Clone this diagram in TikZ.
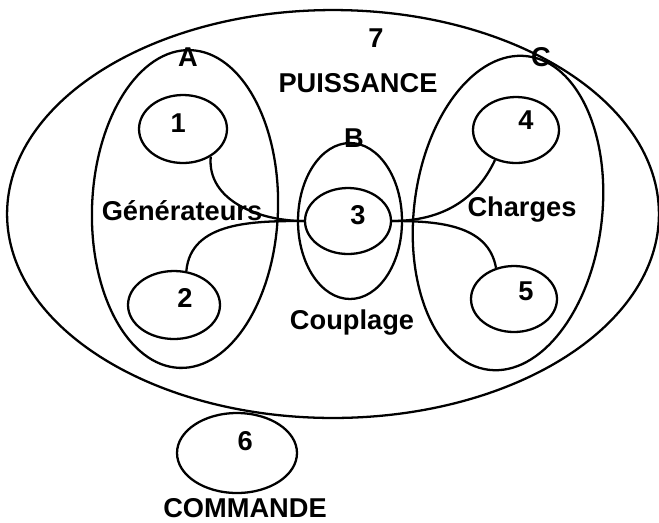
\documentclass[tikz,border=0pt]{standalone}
\usepackage{fontspec}
\setmainfont{Liberation Sans}
\usetikzlibrary{shapes.geometric, positioning}

\begin{document}
\begin{tikzpicture}[x=0.02cm, y=0.02cm, line width=1.3pt,
    font=\bfseries\fontsize{15.5}{18}\selectfont,
    bulle/.style={draw, ellipse, inner sep=0pt},
    lien/.style={line width=1.3pt}]
    \useasboundingbox (0,0) rectangle (659,-522);

    % ensembles
    \node[bulle, minimum width=13.04cm, minimum height=8.16cm] (p7) at (333,-214) {};
    \node[bulle, minimum width=3.72cm, minimum height=6.36cm, rotate=-2] (gA) at (185,-209) {};
    \node[bulle, minimum width=2.08cm, minimum height=3.12cm] (gB) at (350,-221) {};
    \node[bulle, minimum width=3.76cm, minimum height=6.32cm, rotate=-7] (gC) at (508,-213) {};

    % elements
    \node[bulle, minimum width=1.76cm, minimum height=1.36cm,
        label={[xshift=-2.8pt, yshift=3.4pt]center:1}] (c1) at (183,-129) {};
    \node[bulle, minimum width=1.84cm, minimum height=1.36cm,
        label={[xshift=6.3pt, yshift=4pt]center:2}] (c2) at (174,-305) {};
    \node[bulle, minimum width=1.72cm, minimum height=1.32cm,
        label={[xshift=5.7pt, yshift=3.4pt]center:3}] (c3) at (348,-221) {};
    \node[bulle, minimum width=1.72cm, minimum height=1.32cm,
        label={[xshift=5.7pt, yshift=5.7pt]center:4}] (c4) at (516,-130) {};
    \node[bulle, minimum width=1.72cm, minimum height=1.32cm,
        label={[xshift=6.8pt, yshift=4.5pt]center:5}] (c5) at (514,-299) {};
    \node[bulle, minimum width=2.4cm, minimum height=1.6cm,
        label={[xshift=4.6pt, yshift=6.8pt]center:6}] (c6) at (237,-453) {};

    % textes
    \node (t7) at (376,-38) {7};
    \node (tpuis) at (358,-83) {PUISSANCE};
    \node (tA) at (188,-57) {A};
    \node (tB) at (354,-138) {B};
    \node (tC) at (541,-57) {C};
    \node (tgen) at (182,-211) {Générateurs};
    \node (tch) at (522,-210) {Charges};
    \node (tcoup) at (352,-323) {Couplage};
    \node (tcom) at (245,-508) {COMMANDE};

    \path[lien]
        (c1.-45) edge[out=-95, in=180] (c3.west)
        (c2.70) edge[out=85, in=180] (c3.west)
        (c3.east) edge[out=0, in=-115] (c4.235)
        (c3.east) edge[out=0, in=100] (c5.120);
\end{tikzpicture}
\end{document}
